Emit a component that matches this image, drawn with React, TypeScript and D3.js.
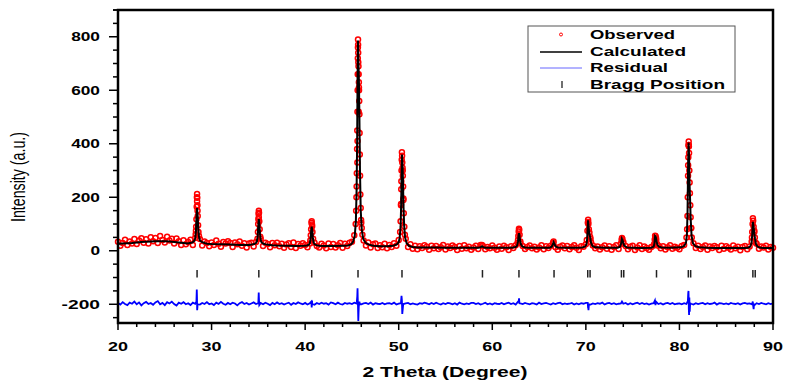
import React from 'react';
import * as d3 from 'd3';

// 2-theta step scan (20..90, step 0.25) - observed intensity off the baseline
const obsStart = 20;
const obsStep = 0.25;
const obsGrid = [
  34, 19, 29, 41, 22, 35, 27, 44, 25, 38, 47, 30, 43, 27, 51, 36, 48, 29, 55, 40,
  31, 52, 38, 45, 27, 46, 36, 22, 39, 24, 33, 41, 22, 48, 150, 44, 20, 35, 29, 17,
  31, 22, 38, 26, 15, 33, 27, 36, 29, 14, 31, 24, 35, 19, 28, 12, 27, 30, 16, 33,
  118, 45, 18, 30, 25, 13, 29, 21, 30, 17, 26, 11, 23, 28, 14, 31, 10, 25, 19, 28,
  22, 13, 27, 92, 30, 18, 12, 26, 20, 9, 27, 14, 25, 12, 21, 29, 11, 26, 18, 30,
  34, 58, 240, 610, 105, 38, 20, 31, 12, 24, 27, 10, 21, 13, 26, 9, 22, 14, 28, 19,
  40, 175, 190, 45, 14, 24, 8, 19, 6, 17, 10, 21, 15, 4, 19, 9, 18, 7, 13, 22,
  5, 16, 10, 20, 14, 3, 18, 8, 21, 9, 15, 4, 12, 19, 7, 22, 18, 6, 14, 9,
  20, 11, 4, 16, 8, 19, 13, 3, 17, 10, 21, 40, 28, 18, 7, 14, 20, 9, 15, 5,
  12, 21, 6, 17, 10, 19, 30, 13, 4, 15, 20, 9, 18, 6, 14, 21, 11, 3, 17, 15,
  24, 108, 45, 20, 9, 16, 5, 13, 20, 8, 17, 4, 14, 21, 7, 26, 33, 18, 6, 15,
  19, 3, 12, 21, 7, 16, 10, 4, 14, 20, 48, 19, 9, 17, 5, 13, 21, 8, 15, 11,
  6, 18, 22, 50, 395, 85, 28, 10, 19, 7, 14, 20, 4, 16, 10, 18, 13, 3, 19, 8,
  17, 11, 5, 20, 9, 15, 2, 14, 18, 6, 16, 50, 75, 26, 8, 16, 12, 19, 5, 14,
  11,
];

// extra observed points read along the peak flanks
const obsPeaks: [number, number][] = [
  [28.3, 62], [28.33, 75], [28.35, 90], [28.38, 118], [28.41, 165], [28.43, 200], [28.45, 212],
  [28.45, 185], [28.47, 198], [28.49, 170], [28.52, 130], [28.56, 95], [28.6, 70], [28.65, 55],
  [34.9, 45], [34.95, 70], [34.98, 100], [35.02, 138], [35.05, 150], [35.05, 125], [35.07, 142],
  [35.1, 110], [35.14, 80], [35.2, 52],
  [40.55, 38], [40.6, 58], [40.64, 80], [40.68, 105], [40.7, 110], [40.73, 98], [40.78, 70], [40.85, 45],
  [45.4, 100], [45.45, 150], [45.48, 200], [45.52, 290], [45.55, 380], [45.57, 450], [45.58, 330],
  [45.59, 520], [45.6, 410], [45.61, 600], [45.62, 660], [45.63, 720], [45.64, 760], [45.65, 790],
  [45.66, 770], [45.67, 740], [45.68, 705], [45.7, 690], [45.72, 660], [45.72, 520], [45.74, 630],
  [45.76, 600], [45.78, 560], [45.8, 510], [45.82, 440], [45.84, 360], [45.87, 280], [45.9, 210],
  [45.94, 160], [45.98, 115], [46.05, 85], [46.12, 60],
  [50.15, 70], [50.2, 110], [50.24, 170], [50.27, 230], [50.28, 260], [50.3, 300], [50.32, 340],
  [50.34, 368], [50.36, 355], [50.38, 330], [50.41, 310], [50.43, 300], [50.44, 280], [50.47, 240],
  [50.5, 195], [50.54, 140], [50.6, 90], [50.66, 60],
  [58.9, 22], [66.5, 28], [66.55, 35],
  [62.7, 30], [62.78, 55], [62.82, 72], [62.85, 82], [62.88, 78], [62.92, 60], [63.0, 35],
  [70.1, 40], [70.17, 75], [70.21, 105], [70.24, 116], [70.27, 100], [70.32, 80], [70.38, 68],
  [70.45, 52], [70.55, 32],
  [73.75, 25], [73.82, 40], [73.86, 48], [73.9, 44], [73.98, 30],
  [77.3, 25], [77.36, 42], [77.4, 56], [77.45, 54], [77.52, 40], [77.6, 25],
  [80.82, 80], [80.86, 130], [80.89, 200], [80.92, 280], [80.93, 320], [80.95, 350], [80.97, 395],
  [80.99, 408], [81.01, 390], [81.03, 365], [81.06, 300], [81.09, 255], [81.12, 215], [81.16, 170],
  [81.2, 125], [81.25, 85], [81.32, 50],
  [87.72, 35], [87.78, 70], [87.82, 100], [87.85, 122], [87.88, 112], [87.93, 90], [88.0, 70],
  [88.06, 50], [88.15, 30],
];

// calculated profile
const calculated: [number, number][] = [
  [20, 26], [20.5, 27], [21, 28], [21.5, 29], [22, 31], [22.5, 33], [23, 34], [23.5, 35], [24, 36],
  [24.5, 36], [25, 36], [25.5, 35], [26, 33], [26.5, 31], [27, 29], [27.5, 27],
  [27.65, 29], [27.95, 31], [28.15, 37], [28.25, 46], [28.33, 73], [28.39, 126], [28.45, 160],
  [28.51, 133], [28.57, 86], [28.65, 53], [28.75, 39], [28.95, 33], [29.25, 29],
  [29.5, 26], [30, 25], [31, 24], [32, 23], [33, 22], [34, 22],
  [34.25, 23], [34.55, 25], [34.75, 29], [34.85, 36], [34.93, 55], [34.99, 94], [35.05, 118],
  [35.11, 99], [35.17, 65], [35.25, 40], [35.35, 31], [35.55, 26], [35.85, 23],
  [36.5, 21], [37, 20], [38, 19], [39, 18],
  [39.9, 19], [40.2, 20], [40.4, 23], [40.5, 28], [40.58, 43], [40.64, 72], [40.7, 90],
  [40.76, 75], [40.82, 50], [40.9, 32], [41.0, 24], [41.2, 21], [41.5, 19],
  [42, 18], [43, 18], [44, 19],
  [44.6, 20], [44.9, 24], [45.1, 32], [45.3, 55], [45.42, 110], [45.5, 230], [45.56, 420],
  [45.6, 640], [45.65, 786], [45.7, 700], [45.75, 630], [45.8, 500], [45.86, 300], [45.94, 150],
  [46.05, 80], [46.2, 45], [46.45, 30], [46.8, 23], [47.3, 19],
  [48, 17], [48.8, 17],
  [49.4, 19], [49.8, 24], [50.0, 32], [50.1, 48], [50.2, 90], [50.26, 170], [50.31, 290],
  [50.35, 360], [50.4, 320], [50.45, 270], [50.5, 180], [50.58, 95], [50.68, 50], [50.85, 28],
  [51.1, 18], [51.5, 14], [52, 12],
  [53, 12], [54, 12], [55, 11], [56, 11], [57, 11], [58, 11],
  [58.5, 11], [58.75, 13], [58.9, 17], [59.05, 13], [59.3, 11],
  [60, 11], [61, 11], [62, 11],
  [62.2, 12], [62.5, 14], [62.65, 19], [62.75, 35], [62.8, 55], [62.85, 66], [62.9, 58],
  [62.96, 40], [63.05, 25], [63.2, 16], [63.5, 12],
  [64, 11], [65, 11], [65.5, 11],
  [66.1, 11], [66.35, 15], [66.48, 25], [66.55, 32], [66.62, 27], [66.75, 17], [67.0, 12],
  [68, 11], [69, 11],
  [69.6, 12], [69.9, 15], [70.05, 22], [70.13, 40], [70.19, 80], [70.23, 114], [70.28, 95],
  [70.34, 70], [70.4, 60], [70.46, 50], [70.55, 30], [70.7, 18], [71.0, 13],
  [72, 11], [73, 11],
  [73.4, 11], [73.65, 15], [73.78, 28], [73.85, 45], [73.92, 40], [74.0, 30], [74.1, 19], [74.4, 12],
  [75, 11], [76, 10],
  [77.0, 11], [77.25, 16], [77.33, 28], [77.4, 55], [77.47, 52], [77.55, 36], [77.65, 22],
  [77.8, 15], [78.1, 12],
  [79, 11], [79.6, 12],
  [80.2, 13], [80.5, 18], [80.7, 30], [80.8, 60], [80.87, 150], [80.93, 330], [80.98, 405],
  [81.03, 360], [81.08, 250], [81.14, 190], [81.2, 120], [81.3, 55], [81.45, 28], [81.7, 17], [82.1, 13],
  [83, 11], [84, 10], [85, 10], [86, 10], [87, 10],
  [87.3, 11], [87.55, 15], [87.7, 28], [87.78, 60], [87.85, 108], [87.92, 90], [88.0, 65],
  [88.08, 45], [88.18, 25], [88.35, 15], [88.7, 11],
  [89, 10], [90, 10],
];

// residual (obs - calc, shifted to -200), same step scan
const residualGrid = [
  -195, -201, -192, -199, -203, -194, -198, -190, -200, -193, -204, -196, -191, -199, -195, -202,
  -193, -188, -200, -195, -203, -192, -197, -190, -199, -205, -194, -198, -192, -200, -196, -203,
  -194, -198, -199, -201, -195, -199, -192, -200, -197, -203, -194, -199, -191, -198, -202, -195,
  -200, -194, -197, -204, -196, -192, -199, -195, -201, -197, -193, -199, -196, -195, -200, -194,
  -198, -203, -195, -200, -193, -199, -196, -201, -197, -194, -202, -195, -199, -193, -197, -200,
  -195, -201, -196, -198, -202, -195, -199, -194, -198, -196, -201, -193, -196, -200, -194, -199,
  -201, -195, -198, -196, -199, -194, -197, -193, -200, -197, -195, -199, -194, -201, -196, -198,
  -199, -195, -200, -197, -196, -199, -194, -201, -198, -196, -199, -197, -195, -200, -197, -199,
  -201, -196, -198, -194, -197, -200, -195, -199, -194, -198, -201, -196, -199, -195, -197, -200,
  -196, -201, -194, -198, -200, -197, -199, -195, -195, -199, -196, -201, -198, -194, -200, -197,
  -201, -196, -198, -199, -195, -200, -197, -194, -199, -196, -201, -190, -197, -199, -195, -198,
  -200, -196, -198, -201, -194, -199, -197, -195, -198, -201, -196, -199, -196, -194, -200, -197,
  -199, -198, -195, -201, -197, -200, -196, -198, -195, -210, -201, -197, -199, -196, -198, -194,
  -201, -197, -195, -199, -196, -200, -198, -197, -198, -195, -201, -196, -200, -197, -194, -199,
  -195, -199, -197, -201, -198, -196, -190, -199, -196, -201, -197, -195, -199, -195, -200, -198,
  -197, -200, -196, -199, -195, -198, -201, -196, -199, -197, -195, -200, -196, -199, -198, -194,
  -201, -196, -197, -199, -197, -200, -195, -198, -199, -196, -201, -197, -195, -198, -197, -200,
  -204, -196, -199, -195, -198, -200, -196, -199, -197,
];

const residualSpikes: [number, number][] = [
  [28.38, -190], [28.42, -145], [28.44, -170], [28.46, -222], [28.49, -210], [28.52, -200],
  [35.0, -192], [35.04, -156], [35.07, -185], [35.1, -203],
  [40.66, -190], [40.7, -212], [40.74, -186], [40.78, -199],
  [45.52, -192], [45.57, -170], [45.6, -140], [45.62, -175], [45.65, -210], [45.68, -262],
  [45.71, -230], [45.75, -205], [45.8, -190], [45.85, -200],
  [50.25, -190], [50.3, -168], [50.34, -185], [50.38, -236], [50.42, -222], [50.47, -203],
  [62.82, -188], [62.86, -178], [62.9, -196],
  [70.2, -195], [70.24, -215], [70.28, -222], [70.33, -200],
  [73.86, -190],
  [77.38, -186], [77.44, -203],
  [80.9, -188], [80.94, -158], [80.97, -150], [81.0, -215], [81.03, -240], [81.06, -175],
  [81.1, -228], [81.15, -196],
  [87.84, -190], [87.88, -205], [87.93, -218], [87.98, -197],
];

const braggPositions = [
  28.45, 35.05, 40.7, 45.65, 50.35, 58.95, 62.85, 66.6, 70.2, 70.45, 73.8, 74.05, 77.55,
  80.95, 81.2, 87.85, 88.1,
];

const xTicks = [20, 30, 40, 50, 60, 70, 80, 90];
const yTicks = [-200, 0, 200, 400, 600, 800];

const W = 806;
const H = 387;
const left = 118, right = 773, top = 10, bottom = 323;

const x = d3.scaleLinear().domain([20, 90]).range([left, right]);
const y = d3.scaleLinear().domain([-270, 900]).range([bottom, top]);

const observed: [number, number][] = obsGrid
  .map((v, i) => [obsStart + i * obsStep, v] as [number, number])
  .concat(obsPeaks);

const residual: [number, number][] = residualGrid
  .map((v, i) => [obsStart + i * obsStep, v] as [number, number])
  .concat(residualSpikes)
  .sort((a, b) => a[0] - b[0]);

const line = d3.line<[number, number]>().x(d => x(d[0])).y(d => y(d[1]));

const boldFont = '"Liberation Sans", Arial, sans-serif';

export default function App() {
  const xMinor = d3.range(20, 90.01, 2).filter(v => v % 10 !== 0);
  const yMinor = d3.range(-250, 900.01, 50).filter(v => v % 200 !== 0);

  return (
    <svg width={W} height={H} style={{ position: 'absolute', left: 0, top: 0, background: '#fff' }}>
      <rect width={W} height={H} fill="#fff" />

      {/* observed */}
      <g fill="none" stroke="#ff0000" strokeWidth={1.5}>
        {observed.map((d, i) => (
          <circle key={i} cx={x(d[0])} cy={y(d[1])} r={2.5} />
        ))}
      </g>

      {/* calculated */}
      <path d={line(calculated) || ''} fill="none" stroke="#000" strokeWidth={2} />

      {/* residual */}
      <path d={line(residual) || ''} fill="none" stroke="#0000ff" strokeWidth={1.8} />

      {/* bragg marks */}
      <g stroke="#222" strokeWidth={1.5}>
        {braggPositions.map((b, i) => (
          <line key={i} x1={x(b)} x2={x(b)} y1={y(-72)} y2={y(-100)} />
        ))}
      </g>

      {/* frame */}
      <rect x={left} y={top} width={right - left} height={bottom - top} fill="none" stroke="#000" strokeWidth={2.5} />

      {/* ticks */}
      <g stroke="#000" strokeWidth={1.5}>
        {yTicks.map(t => <line key={'yt' + t} x1={left - 9} x2={left} y1={y(t)} y2={y(t)} />)}
        {yMinor.map(t => <line key={'ym' + t} x1={left - 5} x2={left} y1={y(t)} y2={y(t)} />)}
        <line x1={left - 5} x2={left} y1={top} y2={top} />
        {xTicks.map(t => <line key={'xt' + t} x1={x(t)} x2={x(t)} y1={bottom} y2={bottom + 7} />)}
        {xMinor.map(t => <line key={'xm' + t} x1={x(t)} x2={x(t)} y1={bottom} y2={bottom + 4} />)}
      </g>

      <g fontFamily={boldFont} fontWeight="bold" fontSize={12} fill="#000">
        {yTicks.map(t => {
          const s = String(t);
          return (
            <text key={'yl' + t} x={100} y={y(t) + 4.5} textAnchor="end"
              textLength={s.length * 9.6} lengthAdjust="spacingAndGlyphs">{s}</text>
          );
        })}
        {xTicks.map(t => (
          <text key={'xl' + t} x={x(t)} y={351} textAnchor="middle"
            textLength={20} lengthAdjust="spacingAndGlyphs">{t}</text>
        ))}
      </g>

      <text x={445} y={377} textAnchor="middle" fontFamily={boldFont} fontWeight="bold" fontSize={15}
        textLength={165} lengthAdjust="spacingAndGlyphs">2 Theta (Degree)</text>

      <text transform="translate(25,177) rotate(-90)" textAnchor="middle" fontFamily={boldFont}
        fontSize={21} textLength={90} lengthAdjust="spacingAndGlyphs">Intensity (a.u.)</text>

      {/* legend */}
      <g>
        <rect x={528} y={26} width={207} height={66} fill="#fff" stroke="#555" strokeWidth={1} />
        <circle cx={561} cy={34.5} r={1.5} fill="none" stroke="#ff0000" strokeWidth={1} />
        <line x1={540} x2={582} y1={52} y2={52} stroke="#000" strokeWidth={1.5} />
        <line x1={540} x2={582} y1={68} y2={68} stroke="#6666ff" strokeWidth={1} />
        <line x1={562} x2={562} y1={81} y2={88} stroke="#222" strokeWidth={1.3} />
        <g fontFamily={boldFont} fontWeight="bold" fontSize={13} fill="#000">
          <text x={590} y={39} textLength={85} lengthAdjust="spacingAndGlyphs">Observed</text>
          <text x={590} y={56} textLength={96} lengthAdjust="spacingAndGlyphs">Calculated</text>
          <text x={590} y={72} textLength={78} lengthAdjust="spacingAndGlyphs">Residual</text>
          <text x={590} y={89} textLength={135} lengthAdjust="spacingAndGlyphs">Bragg Position</text>
        </g>
      </g>
    </svg>
  );
}
